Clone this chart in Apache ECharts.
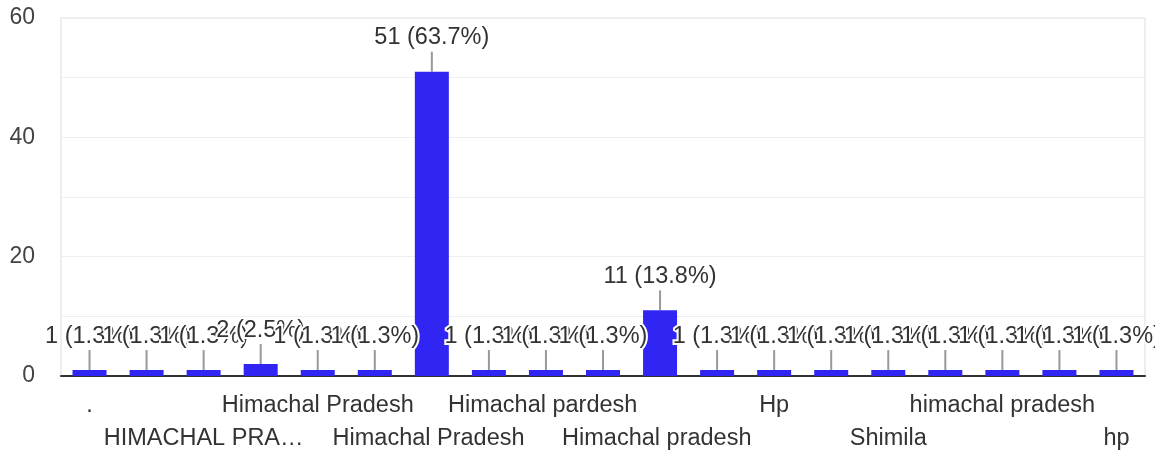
<!DOCTYPE html>
<html>
<head>
<meta charset="utf-8">
<script src="https://cdn.jsdelivr.net/npm/echarts@6/dist/echarts.min.js"></script>
<style>
  html, body { margin: 0; padding: 0; background: #fff; }
  #chart { width: 1155px; height: 453px; }
</style>
</head>
<body>
<div id="chart"></div>
<script>
// answers (sorted like the form summary)
var categories = [
  '.', 'HIMACHAL', 'HIMACHAL PRADESH', 'Himachal', 'Himachal Pradesh',
  'Himachal Pradesh.', 'Himachal Pradesh ', 'Himachal pardesh', 'Himachal pardesh ',
  'Himachal pradesh', 'Himachal pradesh ', 'Himachal prdesh', 'Hp',
  'Kangra', 'Shimila', 'Shimla', 'himachal pradesh', 'himachal pradesh ', 'hp'
];
var counts = [1, 1, 1, 2, 1, 1, 51, 1, 1, 1, 11, 1, 1, 1, 1, 1, 1, 1, 1];
var yTicks = [0, 20, 40, 60];

var total = counts.reduce(function (a, b) { return a + b; }, 0);

function pct(v) {
  // share rounded the way the form summary shows it
  return (Number((v / total).toFixed(3)) * 100).toFixed(1) + '%'
}

// x labels are staggered over two rows: one axis per row
function labelRow(row) {
  return {
    type: 'category',
    data: categories,
    position: 'bottom',
    offset: row * 33,
    axisLine: { show: row === 0, lineStyle: { color: '#333', width: 2 } },
    axisTick: { show: false },
    axisLabel: {
      interval: function (i) { return i % 4 === row * 2; },
      showMinLabel: true,
      showMaxLabel: true,
      margin: 18,
      fontSize: 23.5,
      color: '#333',
      width: 205,
      overflow: 'truncate',
      ellipsis: '…'
    }
  }
}

var chart = echarts.init(document.getElementById('chart'))
chart.setOption({
  animation: false,
  textStyle: { fontFamily: 'Liberation Sans, Arial, sans-serif' },
  grid: {
    left: 61,
    right: 10,
    top: 18,
    bottom: 77,
    outerBoundsMode: 'none',
    show: true,
    borderColor: '#eeeeee',
    borderWidth: 2
  },
  xAxis: [labelRow(0), labelRow(1)],
  yAxis: {
    type: 'value',
    min: 0,
    max: 60,
    interval: 10,
    axisLine: { show: false },
    axisTick: { show: false },
    axisLabel: {
      margin: 26,
      fontSize: 23,
      color: '#444',
      formatter: function (v) {
        return yTicks.indexOf(v) >= 0 ? v : ''
      }
    },
    splitLine: { lineStyle: { color: '#eeeeee', width: 1 } }
  },
  series: [
    {
      type: 'bar',
      data: counts,
      barWidth: 34,
      z: 3,
      itemStyle: { color: '#3125f4' },
      label: {
        show: true,
        position: 'top',
        distance: 2,
        fontSize: 23.5,
        color: '#333',
        textBorderColor: '#fff',
        textBorderWidth: 4,
        formatter: function (p) {
          return p.value + ' (' + pct(p.value) + ')'
        }
      },
      labelLayout: { dy: -20 },
      labelLine: {
        show: true,
        lineStyle: { color: '#999', width: 2 }
      }
    }
  ]
})
</script>
</body>
</html>
